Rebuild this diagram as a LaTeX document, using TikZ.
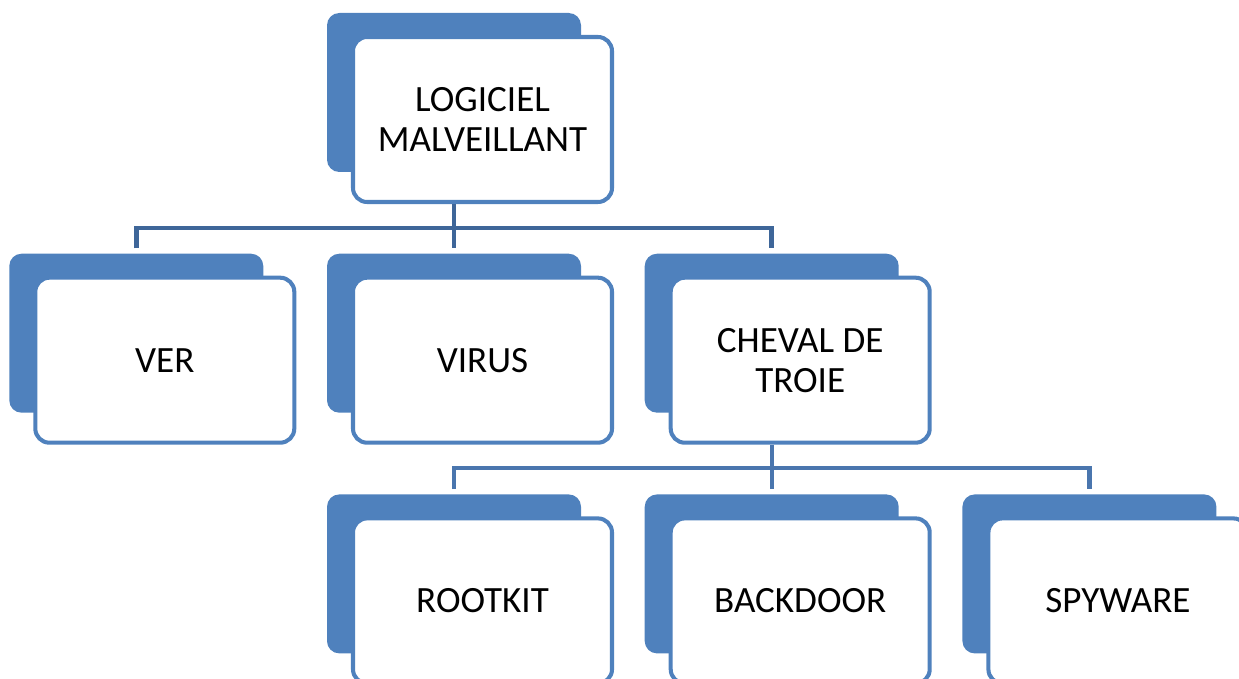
\documentclass[tikz,border=0pt]{standalone}
\usepackage{fontspec}
\setmainfont{Carlito}
\usetikzlibrary{positioning, calc}
\definecolor{boxblue}{RGB}{79,129,189}
\definecolor{linkdark}{RGB}{62,102,153}
\definecolor{linkblue}{RGB}{74,118,174}

\begin{document}
\begin{tikzpicture}[
    backbox/.style={fill=boxblue, rounded corners=7pt, minimum width=5.08cm,
                    minimum height=3.18cm, inner sep=0pt},
    frontbox/.style={draw=boxblue, line width=2.3pt, fill=white, rounded corners=8pt,
                     minimum width=5.18cm, minimum height=3.3cm, align=center,
                     inner sep=0pt, font=\fontsize{21.1}{22.8}\selectfont},
    link/.style={line width=2.8pt, linkdark},
    sublink/.style={line width=2.5pt, linkblue}
]
    \clip (0,0) rectangle (24.78,-13.58);
    \useasboundingbox (0,0) rectangle (24.78,-13.58);

    % Back plates
    \node[backbox] (topB) at (9.08,-1.85) {};
    \node[backbox, below=1.62cm of topB] (virusB) {};
    \node[backbox, left=1.26cm of virusB] (verB) {};
    \node[backbox, right=1.26cm of virusB] (chevalB) {};
    \node[backbox, below=1.62cm of chevalB] (backdoorB) {};
    \node[backbox, left=1.26cm of backdoorB] (rootkitB) {};
    \node[backbox, right=1.26cm of backdoorB] (spywareB) {};

    % Front boxes
    \node[frontbox] (top) at ([shift={(0.57,-0.54)}]topB.center) {LOGICIEL\\MALVEILLANT};
    \node[frontbox] (ver) at ([shift={(0.57,-0.54)}]verB.center) {VER};
    \node[frontbox] (virus) at ([shift={(0.57,-0.54)}]virusB.center) {VIRUS};
    \node[frontbox] (cheval) at ([shift={(0.57,-0.54)}]chevalB.center) {CHEVAL DE\\TROIE};
    \node[frontbox] (rootkit) at ([shift={(0.57,-0.54)}]rootkitB.center) {ROOTKIT};
    \node[frontbox] (backdoor) at ([shift={(0.57,-0.54)}]backdoorB.center) {BACKDOOR};
    \node[frontbox] (spyware) at ([shift={(0.57,-0.54)}]spywareB.center) {SPYWARE};

    % First level links
    \coordinate (bus1) at ($(top.south)+(0,-0.48)$);
    \draw[link] (topB |- top.south) -- (topB |- bus1);
    \draw[link] ([yshift=1mm]verB.north) |- (bus1 -| chevalB) -- ([yshift=1mm]chevalB.north);
    \draw[link] (bus1 -| virusB) -- ([yshift=1mm]virusB.north);

    % Second level links
    \coordinate (bus2) at ($(cheval.south)+(0,-0.46)$);
    \draw[sublink] (chevalB |- cheval.south) -- (chevalB |- bus2);
    \draw[sublink] ([yshift=1mm]rootkitB.north) |- (bus2 -| spywareB) -- ([yshift=1mm]spywareB.north);
    \draw[sublink] (bus2 -| backdoorB) -- ([yshift=1mm]backdoorB.north);
\end{tikzpicture}
\end{document}
